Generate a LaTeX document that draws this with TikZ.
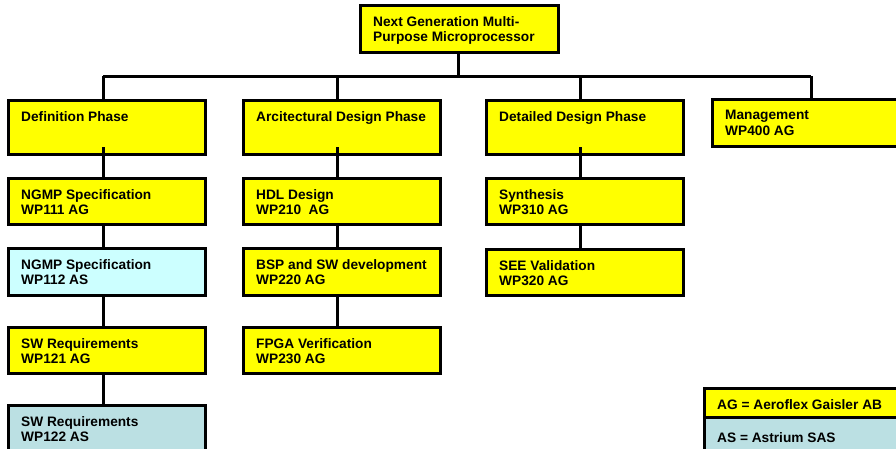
\documentclass[tikz,border=0pt]{standalone}
\usepackage{fontspec}
\setmainfont{Liberation Sans}
\definecolor{wpyellow}{HTML}{FFFF00}
\definecolor{wpcyan}{HTML}{CCFFFF}
\definecolor{wpteal}{HTML}{BBE0E3}

% \wpbox{name}{left}{top}{width}{height}{fill}{text}
\newcommand\wpbox[7]{%
  \node[wp, fill=#6, minimum width=#4pt, minimum height=#5pt] (#1) at (#2,#3) {};
  \node[wptext] (#1-t) at ([xshift=13pt,yshift=-11pt]#1.north west) {#7};}

\begin{document}
\begin{tikzpicture}[x=1pt,y=-1pt,
  wp/.style={draw=black, line width=3pt, anchor=north west, inner sep=0pt, outer sep=0pt},
  wptext/.style={anchor=north west, inner sep=0pt, align=left,
    font=\fontsize{13.7}{15.5}\selectfont\bfseries},
  link/.style={line width=3pt}]
\useasboundingbox (0,0) rectangle (896,448);

% root
\wpbox{root}{360}{5}{198}{47}{wpyellow}{Next Generation Multi-\\Purpose Microprocessor}

% phases
\wpbox{def}{8}{100}{197}{54}{wpyellow}{Definition Phase}
\wpbox{arc}{243}{100}{197}{54}{wpyellow}{Arcitectural Design Phase}
\wpbox{det}{486}{100}{197}{54}{wpyellow}{Detailed Design Phase}
\wpbox{mgt}{712}{99}{197}{47}{wpyellow}{Management\\WP400 AG}

% definition column
\wpbox{wpa}{8}{178}{197}{46}{wpyellow}{NGMP Specification\\WP111 AG}
\wpbox{wpb}{8}{248}{197}{47}{wpcyan}{NGMP Specification\\WP112 AS}
\wpbox{wpc}{8}{327}{197}{46}{wpyellow}{SW Requirements\\WP121 AG}
\wpbox{wpd}{8}{405}{197}{50}{wpteal}{SW Requirements\\WP122 AS}

% architectural column
\wpbox{hdl}{243}{178}{197}{46}{wpyellow}{HDL Design\\WP210\ \ AG}
\wpbox{bsp}{243}{248}{197}{47}{wpyellow}{BSP and SW development\\WP220 AG}
\wpbox{fpga}{243}{327}{197}{46}{wpyellow}{FPGA Verification\\WP230 AG}

% detailed column
\wpbox{syn}{486}{178}{197}{46}{wpyellow}{Synthesis\\WP310 AG}
\wpbox{see}{486}{249}{197}{46}{wpyellow}{SEE Validation\\WP320 AG}

% legend
\node[wp, fill=wpyellow, minimum width=197pt, minimum height=29pt] (lgag) at (704,388) {};
\node[wptext] (lgag-t) at ([xshift=13pt,yshift=-11pt]lgag.north west) {AG = Aeroflex Gaisler AB};
\node[wp, fill=wpteal, minimum width=197pt, minimum height=40pt] (lgas) at (704,417) {};
\node[wptext] (lgas-t) at ([xshift=13pt,yshift=-15pt]lgas.north west) {AS = Astrium SAS};

% bus and stems
\coordinate (b1) at (103,76);
\coordinate (b2) at (337,76);
\coordinate (b3) at (580,76);
\coordinate (b4) at (811,76);
\draw[link] (root.south -| 458,0) -- (458,76);
\draw[link] (b1) -- (b4);
\draw[link] (b1) -- (b1 |- def.north);
\draw[link] (b2) -- (b2 |- arc.north);
\draw[link] (b3) -- (b3 |- det.north);
\draw[link] (b4) -- (b4 |- mgt.north);

% column links
\draw[link] ([yshift=7pt]b1 |- def.south) -- (b1 |- wpa.north);
\draw[link] (b1 |- wpa.south) -- (b1 |- wpb.north);
\draw[link] (b1 |- wpb.south) -- (b1 |- wpc.north);
\draw[link] (b1 |- wpc.south) -- (b1 |- wpd.north);

\draw[link] ([yshift=7pt]b2 |- arc.south) -- (b2 |- hdl.north);
\draw[link] (b2 |- hdl.south) -- (b2 |- bsp.north);
\draw[link] (b2 |- bsp.south) -- (b2 |- fpga.north);

\draw[link] ([yshift=7pt]b3 |- det.south) -- (b3 |- syn.north);
\draw[link] (b3 |- syn.south) -- (b3 |- see.north);
\end{tikzpicture}
\end{document}
